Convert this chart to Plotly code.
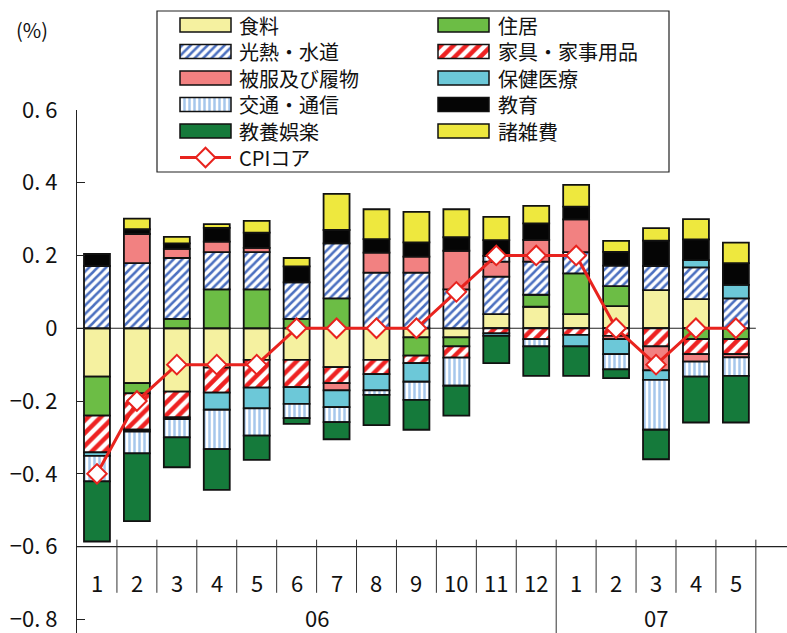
import plotly.graph_objects as go

# ---- data -------------------------------------------------------------
years = ["06", "07"]
months = ["1", "2", "3", "4", "5", "6", "7", "8", "9", "10", "11", "12",
          "1", "2", "3", "4", "5"]
year_of_month = ["06"] * 12 + ["07"] * 5

food = [-0.133, -0.151, -0.174, -0.108, -0.087, -0.087, -0.107, -0.087, -0.025,
        -0.025, 0.039, 0.059, 0.039, 0.061, 0.105, 0.080, None]
housing = [-0.107, -0.028, 0.026, 0.107, 0.107, 0.026, 0.082, None, -0.050,
           -0.025, None, 0.033, 0.112, 0.055, None, -0.030, -0.030]
utilities = [0.171, 0.179, 0.167, 0.102, 0.102, 0.100, 0.151, 0.153, 0.153,
             0.107, 0.103, 0.091, 0.058, 0.056, 0.066, 0.087, 0.082]
furniture = [-0.101, -0.100, -0.071, -0.069, -0.076, -0.075, -0.044, -0.039, -0.021,
             -0.031, -0.014, -0.030, -0.018, -0.021, -0.050, -0.041, -0.041]
clothing = [None, 0.080, 0.025, 0.029, 0.012, None, -0.020, 0.055, 0.044,
            0.106, 0.041, 0.060, 0.090, -0.009, -0.066, -0.021, -0.009]
medical = [-0.010, -0.005, -0.005, -0.047, -0.057, -0.046, -0.046, -0.045, -0.051,
           None, -0.007, None, -0.032, -0.041, -0.026, 0.020, 0.037]
transport = [-0.070, -0.060, -0.050, -0.108, -0.075, -0.039, -0.041, -0.012, -0.050,
             -0.077, 0.016, -0.020, None, -0.042, -0.137, -0.041, -0.051]
education = [0.033, 0.013, 0.015, 0.038, 0.042, 0.044, 0.037, 0.037, 0.039,
             0.037, 0.043, 0.045, 0.035, 0.038, 0.070, 0.057, 0.060]
recreation = [-0.165, -0.186, -0.082, -0.112, -0.067, -0.016, -0.047, -0.083, -0.082,
              -0.082, -0.075, -0.081, -0.081, -0.024, -0.081, -0.126, -0.128]
misc = [None, 0.029, 0.018, 0.010, 0.032, 0.023, 0.099, 0.082, 0.084,
        0.077, 0.064, 0.048, 0.060, 0.030, 0.034, 0.056, 0.056]
cpi_core = [-0.4, -0.2, -0.1, -0.1, -0.1, 0.0, 0.0, 0.0, 0.0,
            0.1, 0.2, 0.2, 0.2, 0.0, -0.1, 0.0, 0.0]

y_ticks = [-0.8, -0.6, -0.4, -0.2, 0.0, 0.2, 0.4, 0.6]

# ---- styles -----------------------------------------------------------
RED = "#E8231E"
EDGE = "#111111"
NUM_FONT = "Noto Sans CJK JP, sans-serif"
JP_FONT = "Noto Sans CJK JP, sans-serif"

W, H = 787, 633


def solid(c):
    return dict(color=c)


def striped(shape, fg, size, solidity):
    return dict(color=fg, pattern=dict(shape=shape, fgcolor=fg, bgcolor="white",
                                       size=size, solidity=solidity, fillmode="replace"))


series = [
    ("食料", food, solid("#F5F1A0")),
    ("住居", housing, solid("#6CBD45")),
    ("光熱・水道", utilities, striped("/", "#4C70C0", 6, 0.42)),
    ("家具・家事用品", furniture, striped("/", "#EE2222", 9, 0.5)),
    ("被服及び履物", clothing, solid("#F28181")),
    ("保健医療", medical, solid("#6CC8D8")),
    ("交通・通信", transport, striped("|", "#A6C7EC", 5, 0.5)),
    ("教育", education, solid("#050505")),
    ("教養娯楽", recreation, solid("#157A3B")),
    ("諸雑費", misc, solid("#EEE83E")),
]

x = list(range(len(months)))
n = len(months)

fig = go.Figure()

# stacked contributions
for name, vals, sty in series:
    fig.add_bar(x=x, y=vals, name=name, width=0.65,
                marker=dict(**sty, line=dict(color=EDGE, width=1.8)),
                showlegend=False, xaxis="x", yaxis="y")

# core CPI line
fig.add_scatter(x=x, y=cpi_core, name="CPIコア", mode="lines+markers",
                line=dict(color=RED, width=3),
                marker=dict(symbol="diamond", size=15, color="white",
                            line=dict(color=RED, width=2)),
                showlegend=False, xaxis="x", yaxis="y")

# ---- custom legend (pixel-like grid on its own axes) -------------------
LEG_X = (157, 669)
LEG_Y = (11, 172)
swatch_x = [180, 438]
text_x = [238, 497]
swatch_w, swatch_h = 51, 14
row0, row_step = 25, 26.5
LEG_FONT = dict(family=JP_FONT, size=20, color="#111")

annotations = []
for i, (name, vals, sty) in enumerate(series):
    r, c = divmod(i, 2)
    yy = row0 + r * row_step
    fig.add_bar(x=[swatch_w], y=[yy], base=[swatch_x[c]], orientation="h",
                width=swatch_h, marker=dict(**sty, line=dict(color=EDGE, width=1.5)),
                showlegend=False, xaxis="x2", yaxis="y2", hoverinfo="skip")
    annotations.append(dict(x=text_x[c], y=yy, xref="x2", yref="y2", text=name,
                            showarrow=False, xanchor="left", yanchor="middle",
                            borderpad=0, font=LEG_FONT))

r_cpi = len(series) // 2
y_cpi = row0 + r_cpi * row_step
fig.add_scatter(x=[swatch_x[0], swatch_x[0] + swatch_w], y=[y_cpi, y_cpi],
                mode="lines", line=dict(color=RED, width=3),
                showlegend=False, xaxis="x2", yaxis="y2", hoverinfo="skip")
fig.add_scatter(x=[swatch_x[0] + swatch_w / 2], y=[y_cpi], mode="markers",
                marker=dict(symbol="diamond", size=15, color="white",
                            line=dict(color=RED, width=2)),
                showlegend=False, xaxis="x2", yaxis="y2", hoverinfo="skip")
annotations.append(dict(x=text_x[0], y=y_cpi, xref="x2", yref="y2", text="CPIコア",
                        showarrow=False, xanchor="left", yanchor="middle",
                        borderpad=0, font=LEG_FONT))

# ---- category axis drawn below the -0.6 line ---------------------------
AXIS_Y = -0.6
SEP_TOP = -0.581
SEP_BOTTOM = -0.727
Y_BOTTOM = -0.8375
MONTH_Y = -0.697
YEAR_Y = -0.794

shapes = [
    # legend frame
    dict(type="rect", xref="paper", yref="paper",
         x0=LEG_X[0] / W, x1=LEG_X[1] / W,
         y0=1 - LEG_Y[1] / H, y1=1 - LEG_Y[0] / H,
         line=dict(color="#222", width=1.2), fillcolor="rgba(0,0,0,0)", layer="above"),
    # zero line
    dict(type="line", xref="x", yref="y", x0=-0.5, x1=n - 0.5, y0=0, y1=0,
         line=dict(color="#222", width=1.2), layer="below"),
    # horizontal category axis line
    dict(type="line", xref="x domain", yref="y", x0=0, x1=1, y0=AXIS_Y, y1=AXIS_Y,
         line=dict(color="#222", width=1.2), layer="above"),
]

for i in range(n):
    b = i + 0.5
    last = i == n - 1
    new_year = last or year_of_month[i] != year_of_month[i + 1]
    shapes.append(dict(type="line", xref="x", yref="y", x0=b, x1=b,
                       y0=SEP_TOP, y1=Y_BOTTOM if new_year else SEP_BOTTOM,
                       line=dict(color="#333", width=1), layer="above"))

for i, m in enumerate(months):
    annotations.append(dict(x=x[i], y=MONTH_Y, xref="x", yref="y", text=m,
                            showarrow=False, xanchor="center", yanchor="middle",
                            font=dict(family=NUM_FONT, size=22, color="#111")))

for yr in years:
    idx = [i for i, v in enumerate(year_of_month) if v == yr]
    annotations.append(dict(x=(idx[0] + idx[-1]) / 2, y=YEAR_Y, xref="x", yref="y",
                            text=yr, showarrow=False, xanchor="center", yanchor="middle",
                            font=dict(family=NUM_FONT, size=22, color="#111")))

annotations.append(dict(x=32 / W, y=1 - 29.5 / H, xref="paper", yref="paper",
                        text="(%)", showarrow=False, xanchor="center", yanchor="middle",
                        font=dict(family=JP_FONT, size=20, color="#111")))


def tick_text(v):
    if abs(v) < 1e-9:
        return "0"
    s = f"{abs(v):.1f}".replace(".", ". ")
    return ("−" if v < 0 else "") + s


fig.update_layout(
    width=W, height=H, autosize=False,
    margin=dict(l=0, r=0, t=0, b=0, pad=0),
    paper_bgcolor="white", plot_bgcolor="rgba(0,0,0,0)",
    barmode="relative", showlegend=False,
    xaxis=dict(domain=[77 / W, 1], range=[-0.5, 17.28], visible=False,
               automargin=False, fixedrange=True),
    yaxis=dict(domain=[0, 1 - 109.9 / H], range=[Y_BOTTOM, 0.6],
               showline=True, linecolor="#222", linewidth=1.2,
               ticks="inside", ticklen=8, tickcolor="#222", tickwidth=1,
               tickvals=y_ticks, ticktext=[tick_text(v) for v in y_ticks],
               tickfont=dict(family=NUM_FONT, size=22, color="#111"),
               ticklabelstandoff=14, ticklabeloverflow="allow",
               automargin=False,
               showgrid=False, zeroline=False, fixedrange=True),
    xaxis2=dict(domain=[LEG_X[0] / W, LEG_X[1] / W], range=list(LEG_X),
                visible=False, anchor="y2", automargin=False, fixedrange=True),
    yaxis2=dict(domain=[1 - LEG_Y[1] / H, 1 - LEG_Y[0] / H],
                range=[LEG_Y[1], LEG_Y[0]], visible=False, anchor="x2",
                automargin=False, fixedrange=True),
    shapes=shapes,
    annotations=annotations,
)

fig.write_html("out.html")
